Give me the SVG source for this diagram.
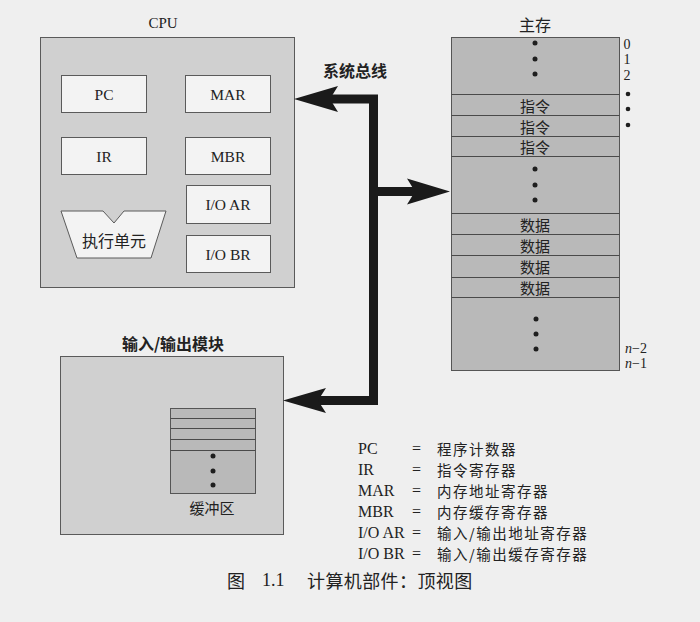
<svg xmlns="http://www.w3.org/2000/svg" width="700" height="622" viewBox="0 0 700 622">
  <defs>
    <style>
      .bg { fill: #efefef; }
      .panel { fill: #d0d0d0; stroke: #5a5a5a; stroke-width: 1; }
      .reg { fill: #f3f3f3; stroke: #5a5a5a; stroke-width: 1; }
      .mem { fill: #b9b9b9; stroke: #555; stroke-width: 1; }
      .row { stroke: #4a4a4a; stroke-width: 1; fill: none; }
      .dot { fill: #1e1e1e; }
      .lat { font-family: "Liberation Serif", "Noto Sans CJK SC", serif; fill: #222; }
      .cjk { font-family: "Noto Sans CJK SC", "Liberation Serif", sans-serif; fill: #222; }
      .lg { font-size: 14.5px; letter-spacing: 1.5px; }
      .bus { fill: none; stroke: #1a1a1a; stroke-width: 9; stroke-linejoin: miter; }
      .head { fill: #1a1a1a; }
    </style>
  </defs>

  <rect class="bg" x="0" y="0" width="700" height="622"/>

  <!-- CPU -->
  <g id="cpu">
    <text class="lat" x="163" y="23" font-size="15" text-anchor="middle" dominant-baseline="central">CPU</text>
    <rect class="panel" x="40.5" y="37.5" width="254" height="250"/>
  </g>
  <g id="pc">
    <rect class="reg" x="61.5" y="75.5" width="85" height="37"/>
    <text class="lat" x="104" y="94" font-size="15.5" text-anchor="middle" dominant-baseline="central">PC</text>
  </g>
  <g id="ir">
    <rect class="reg" x="61.5" y="137.5" width="85" height="37"/>
    <text class="lat" x="104" y="156" font-size="15.5" text-anchor="middle" dominant-baseline="central">IR</text>
  </g>
  <g id="mar">
    <rect class="reg" x="185.5" y="75.5" width="85" height="37"/>
    <text class="lat" x="228" y="94" font-size="15.5" text-anchor="middle" dominant-baseline="central">MAR</text>
  </g>
  <g id="mbr">
    <rect class="reg" x="185.5" y="137.5" width="85" height="37"/>
    <text class="lat" x="228" y="156" font-size="15.5" text-anchor="middle" dominant-baseline="central">MBR</text>
  </g>
  <g id="ioar">
    <rect class="reg" x="186.5" y="185.5" width="84" height="38"/>
    <text class="lat" x="228" y="204.5" font-size="15.5" text-anchor="middle" dominant-baseline="central">I/O AR</text>
  </g>
  <g id="iobr">
    <rect class="reg" x="186.5" y="235.5" width="84" height="37"/>
    <text class="lat" x="228" y="254" font-size="15.5" text-anchor="middle" dominant-baseline="central">I/O BR</text>
  </g>
  <g id="exec-unit">
    <polygon class="reg" points="61,211 103,211 114,223 124,211 166,211 151,258 77,258"/>
    <text class="cjk" x="114" y="240" font-size="16" text-anchor="middle" dominant-baseline="central">执行单元</text>
  </g>

  <!-- Main memory -->
  <g id="memory">
    <text class="cjk" x="535" y="24" font-size="16" text-anchor="middle" dominant-baseline="central">主存</text>
    <rect class="mem" x="451.5" y="37.5" width="168" height="333"/>
    <line class="row" x1="451.5" y1="94.5" x2="619.5" y2="94.5"/>
    <line class="row" x1="451.5" y1="115.5" x2="619.5" y2="115.5"/>
    <line class="row" x1="451.5" y1="136.5" x2="619.5" y2="136.5"/>
    <line class="row" x1="451.5" y1="156.5" x2="619.5" y2="156.5"/>
    <line class="row" x1="451.5" y1="213.5" x2="619.5" y2="213.5"/>
    <line class="row" x1="451.5" y1="234.5" x2="619.5" y2="234.5"/>
    <line class="row" x1="451.5" y1="255.5" x2="619.5" y2="255.5"/>
    <line class="row" x1="451.5" y1="277.5" x2="619.5" y2="277.5"/>
    <line class="row" x1="451.5" y1="297.5" x2="619.5" y2="297.5"/>
    <circle class="dot" cx="535" cy="43" r="2.5"/>
    <circle class="dot" cx="535" cy="59" r="2.5"/>
    <circle class="dot" cx="535" cy="74" r="2.5"/>
    <text class="cjk" x="535" y="105" font-size="15" text-anchor="middle" dominant-baseline="central">指令</text>
    <text class="cjk" x="535" y="126" font-size="15" text-anchor="middle" dominant-baseline="central">指令</text>
    <text class="cjk" x="535" y="146.5" font-size="15" text-anchor="middle" dominant-baseline="central">指令</text>
    <circle class="dot" cx="535" cy="169" r="2.5"/>
    <circle class="dot" cx="535" cy="185" r="2.5"/>
    <circle class="dot" cx="535" cy="200" r="2.5"/>
    <text class="cjk" x="535" y="224" font-size="15" text-anchor="middle" dominant-baseline="central">数据</text>
    <text class="cjk" x="535" y="245" font-size="15" text-anchor="middle" dominant-baseline="central">数据</text>
    <text class="cjk" x="535" y="266.5" font-size="15" text-anchor="middle" dominant-baseline="central">数据</text>
    <text class="cjk" x="535" y="287.5" font-size="15" text-anchor="middle" dominant-baseline="central">数据</text>
    <circle class="dot" cx="536" cy="319" r="2.5"/>
    <circle class="dot" cx="536" cy="334" r="2.5"/>
    <circle class="dot" cx="536" cy="349" r="2.5"/>
    <text class="lat" x="627" y="44" font-size="14" text-anchor="middle" dominant-baseline="central">0</text>
    <text class="lat" x="627" y="59" font-size="14" text-anchor="middle" dominant-baseline="central">1</text>
    <text class="lat" x="627" y="75" font-size="14" text-anchor="middle" dominant-baseline="central">2</text>
    <circle class="dot" cx="628" cy="94" r="2.3"/>
    <circle class="dot" cx="628" cy="109" r="2.3"/>
    <circle class="dot" cx="628" cy="125" r="2.3"/>
    <text class="lat" x="625" y="348" font-size="14" dominant-baseline="central"><tspan font-style="italic">n</tspan>−2</text>
    <text class="lat" x="625" y="363" font-size="14" dominant-baseline="central"><tspan font-style="italic">n</tspan>−1</text>
  </g>

  <!-- I/O module -->
  <g id="io-module">
    <text class="cjk" x="173" y="343" font-size="16" font-weight="bold" text-anchor="middle" dominant-baseline="central">输入/输出模块</text>
    <rect class="panel" x="60.5" y="356.5" width="223" height="178"/>
  </g>
  <g id="buffer">
    <rect class="mem" x="170.5" y="408.5" width="85" height="85"/>
    <line class="row" x1="170.5" y1="418.5" x2="255.5" y2="418.5"/>
    <line class="row" x1="170.5" y1="428.5" x2="255.5" y2="428.5"/>
    <line class="row" x1="170.5" y1="439.5" x2="255.5" y2="439.5"/>
    <line class="row" x1="170.5" y1="450.5" x2="255.5" y2="450.5"/>
    <circle class="dot" cx="213" cy="456" r="2.5"/>
    <circle class="dot" cx="213" cy="471" r="2.5"/>
    <circle class="dot" cx="213" cy="485" r="2.5"/>
    <text class="cjk" x="212" y="507" font-size="15" text-anchor="middle" dominant-baseline="central">缓冲区</text>
  </g>

  <!-- System bus -->
  <g id="connectors">
    <text class="cjk" x="355" y="70" font-size="16" font-weight="bold" text-anchor="middle" dominant-baseline="central">系统总线</text>
    <path class="bus" d="M 328 99 H 373.5 V 400.5 H 318"/>
    <path class="bus" d="M 373.5 191.5 H 416"/>
    <polygon class="head" points="294,99 338,86 330,99 338,112"/>
    <polygon class="head" points="450,191.5 407,178.5 415,191.5 407,204.5"/>
    <polygon class="head" points="283,400.5 326,388 318,400.5 326,413"/>
  </g>

  <!-- Legend -->
  <g id="legend" font-size="16">
    <text class="lat" y="448" dominant-baseline="central"><tspan x="358">PC</tspan><tspan x="412">=</tspan><tspan class="cjk lg" x="437">程序计数器</tspan></text>
    <text class="lat" y="469" dominant-baseline="central"><tspan x="358">IR</tspan><tspan x="412">=</tspan><tspan class="cjk lg" x="437">指令寄存器</tspan></text>
    <text class="lat" y="490" dominant-baseline="central"><tspan x="358">MAR</tspan><tspan x="412">=</tspan><tspan class="cjk lg" x="437">内存地址寄存器</tspan></text>
    <text class="lat" y="511" dominant-baseline="central"><tspan x="358">MBR</tspan><tspan x="412">=</tspan><tspan class="cjk lg" x="437">内存缓存寄存器</tspan></text>
    <text class="lat" y="532" dominant-baseline="central"><tspan x="358">I/O AR</tspan><tspan x="412">=</tspan><tspan class="cjk lg" x="437">输入/输出地址寄存器</tspan></text>
    <text class="lat" y="553" dominant-baseline="central"><tspan x="358">I/O BR</tspan><tspan x="412">=</tspan><tspan class="cjk lg" x="437">输入/输出缓存寄存器</tspan></text>
  </g>

  <!-- Caption -->
  <g id="caption">
    <text class="cjk" y="580" font-size="18" dominant-baseline="central"><tspan x="227">图</tspan><tspan class="lat" x="262">1.1</tspan><tspan x="307" letter-spacing="0.4">计算机部件：顶视图</tspan></text>
  </g>
</svg>
